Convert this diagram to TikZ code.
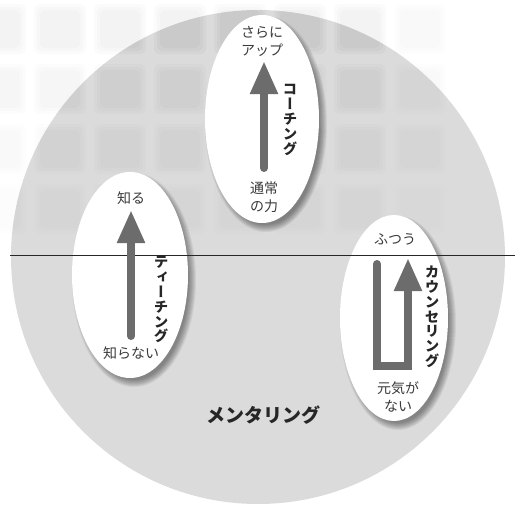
\documentclass[tikz,border=0pt]{standalone}
\usepackage{fontspec}
\usetikzlibrary{shapes.geometric,arrows.meta}
\newfontfamily\jp{Noto Sans CJK JP}
\newfontfamily\jpv[RawFeature=+vert]{Noto Sans CJK JP}
\definecolor{arrowgray}{RGB}{108,108,108}
\definecolor{txt}{RGB}{58,58,58}
\definecolor{txtb}{RGB}{38,38,38}
\definecolor{circ}{RGB}{219,219,219}
\tikzset{
  oval/.style={ellipse, fill=white, draw=none, inner sep=0pt},
  lbl/.style={text=txt, align=center, inner sep=0pt, font=\jp\fontsize{14}{18}\selectfont},
  vlbl/.style={text=txtb, align=center, inner sep=0pt, font=\jpv\bfseries\fontsize{14.5}{14.8}\selectfont},
  bigarrow/.style={draw=arrowgray, line width=8pt, line cap=round, line join=miter,
    -{Triangle[width=26pt,length=33pt]}},
  tile/.style={fill=black, rounded corners=5pt}
}
\begin{document}
\begin{tikzpicture}[x=1pt,y=-1pt]
\useasboundingbox (0,0) rectangle (515,506);
% faint soft tiles on the white ground
\foreach \r in {0,...,3}{
  \foreach \c in {0,...,7}{
    \pgfmathsetmacro\op{0.016*(1-0.22*\r)*(\c<7 ? 1 : 0.6)}
    \foreach \e in {-3,0,3}{
      \fill[tile, opacity=\op] (-23+60*\c-\e, 7+60*\r-\e) rectangle ++(46+2*\e,44+2*\e);
    }
  }
}
% big circle
\fill[circ] (258,257) circle (247pt);
\begin{scope}
  \clip (258,257) circle (247pt);
  \foreach \r in {0,...,3}{
    \foreach \c in {0,...,7}{
      \pgfmathsetmacro\op{0.022*(1-0.2*\r)*(\c<7 ? 1 : 0.55)}
      \foreach \e in {-3,0,3}{
        \fill[tile, opacity=\op] (-23+60*\c-\e, 7+60*\r-\e) rectangle ++(46+2*\e,44+2*\e);
      }
    }
  }
\end{scope}
% soft shadows of the ovals
\foreach \cx/\cy/\rx/\ry in {262/119/57/104, 130/275/58/103, 394/318/54/103}{
  \foreach \k in {0,...,7}{
    \fill[black, opacity=0.06] (\cx+4,\cy+5) ellipse [x radius=\rx+4-\k, y radius=\ry+4-\k];
  }
}
% ovals
\node[oval, minimum width=114pt, minimum height=208pt] (coach) at (262,119) {};
\node[oval, minimum width=116pt, minimum height=206pt] (teach) at (130,275) {};
\node[oval, minimum width=108pt, minimum height=206pt] (couns) at (394,318) {};
% horizontal line
\coordinate (hl0) at (10,255);
\coordinate (hl1) at (515,255);
\draw[line width=0.8pt, black!85] (hl0) -- (hl1);
% arrows
\coordinate (ca0) at (264,168);
\coordinate (ca1) at (264,61);
\draw[bigarrow] (ca0) -- (ca1);
\coordinate (ta0) at (131,336);
\coordinate (ta1) at (131,210);
\draw[bigarrow] (ta0) -- (ta1);
\coordinate (ua0) at (377,264);
\coordinate (ua1) at (377,366);
\coordinate (ua2) at (408,366);
\coordinate (ua3) at (408,258);
\draw[bigarrow] (ua0) -- (ua1) -- (ua2) -- (ua3);
% labels
\node[lbl] (saraup) at (262,41.5) {さらに\\アップ};
\node[lbl] (tsujo) at (264,197) {通常\\の力};
\node[vlbl] (coaching) at (290,120) {コ\\ー\\チ\\ン\\グ};
\node[lbl] (shiru) at (131,198) {知る};
\node[lbl] (shiranai) at (131,353) {知らない};
\node[vlbl] (teaching) at (161,300) {テ\\ィ\\ー\\チ\\ン\\グ};
\node[lbl] (futsu) at (395,239) {ふつう};
\node[lbl] (genki) at (398,397) {元気が\\ない};
\node[vlbl] (counseling) at (432,317) {カ\\ウ\\ン\\セ\\リ\\ン\\グ};
\node[text=txtb, inner sep=0pt, font=\jp\bfseries\fontsize{19}{20}\selectfont] (mentoring) at (263,415) {メンタリング};
\end{tikzpicture}
\end{document}
